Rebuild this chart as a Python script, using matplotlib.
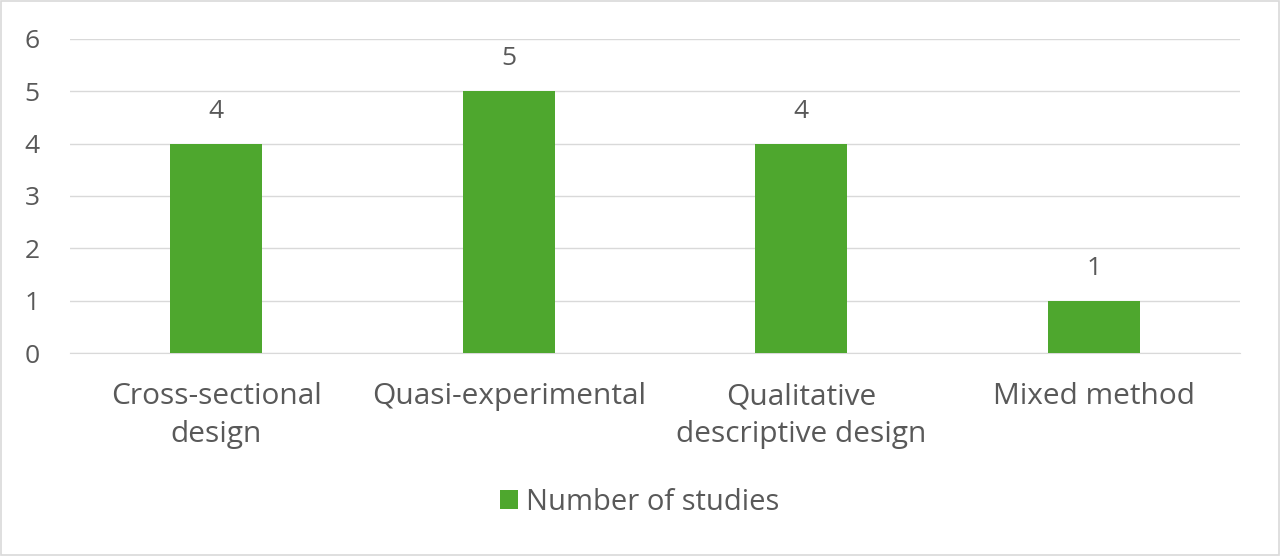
import matplotlib
matplotlib.use('Agg')
import matplotlib.pyplot as plt
from matplotlib.patches import Rectangle

categories = ['Cross-sectional\ndesign', 'Quasi-experimental', 'Qualitative\ndescriptive design', 'Mixed method']
counts = [4, 5, 4, 1]
series_name = 'Number of studies'

bar_color = '#4EA72E'
text_color = '#595959'
grid_color = '#D9D9D9'

plt.rcParams['font.family'] = ['Open Sans', 'DejaVu Sans']

fig = plt.figure(figsize=(12.8, 5.56), dpi=100)
ax = fig.add_axes([0.0547, 0.365, 0.9140, 0.565])

x = range(len(categories))
bars = ax.bar(x, counts, width=0.315, color=bar_color, label=series_name, zorder=3)
for b, v in zip(bars, counts):
    ax.text(b.get_x() + b.get_width() / 2, v + 0.38, str(v), ha='center', va='bottom',
            fontsize=19, color=text_color)

ax.set_xlim(-0.5, len(categories) - 0.5)
ax.set_ylim(0, 6)
ax.set_yticks(range(0, 7))
ax.yaxis.grid(True, color=grid_color, linewidth=1, zorder=0)
ax.set_xticks(list(x))
ax.set_xticklabels(categories, fontsize=21.5, color=text_color, linespacing=1.4)
ax.tick_params(axis='x', length=0, pad=21)
ax.tick_params(axis='y', length=0, pad=22, labelsize=19, labelcolor=text_color)
for s in ['top', 'right', 'left']:
    ax.spines[s].set_visible(False)
ax.spines['bottom'].set_color(grid_color)

fig.legend(handles=[bars], labels=[series_name], loc='center', bbox_to_anchor=(0.5, 0.097),
           frameon=False, fontsize=21, labelcolor=text_color, handlelength=0.6,
           handleheight=0.6, handletextpad=0.3)

fig.patches.append(Rectangle((0.001, 0.002), 0.998, 0.996, transform=fig.transFigure,
                             fill=False, edgecolor='#D9D9D9', linewidth=1.2))

fig.savefig('out.png', dpi=100)
